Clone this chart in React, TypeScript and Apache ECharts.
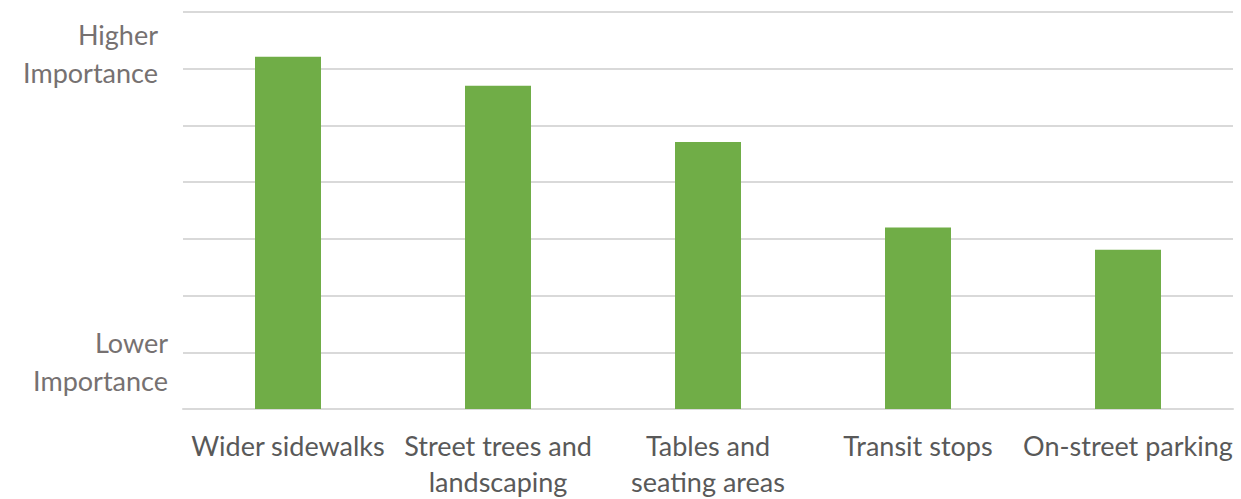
import React, { useEffect, useRef } from "react";
import * as echarts from "echarts";

const categories = [
  "Wider sidewalks",
  "Street trees and\nlandscaping",
  "Tables and\nseating areas",
  "Transit stops",
  "On-street parking",
];
const importance = [6.21, 5.7, 4.71, 3.2, 2.81];
const yTickLabels = ["Higher\nImportance", "Lower\nImportance"];

const FONT = "Lato, 'Open Sans', sans-serif";

export default function App() {
  const ref = useRef<HTMLDivElement>(null);
  useEffect(() => {
    if (!ref.current) return;
    document.body.style.margin = "0";
    const chart = echarts.init(ref.current, undefined, { renderer: "svg" });
    chart.setOption({
      animation: false,
      grid: { left: 183, right: 8, top: 12, bottom: 89, containLabel: false },
      xAxis: {
        type: "category",
        data: categories,
        axisLine: { show: true, lineStyle: { color: "#d9d9d9", width: 2 } },
        axisTick: { show: false },
        axisLabel: {
          interval: 0,
          margin: 18,
          color: "#595959",
          fontFamily: FONT,
          fontSize: 27,
          lineHeight: 36,
        },
      },
      yAxis: {
        type: "value",
        min: 0,
        max: 7,
        interval: 1,
        axisLine: { show: false },
        axisTick: { show: false },
        axisLabel: { show: false },
        splitLine: { lineStyle: { color: "#d9d9d9", width: 2 } },
      },
      graphic: [
        {
          type: "text",
          x: 158,
          y: 15,
          style: {
            text: yTickLabels[0],
            align: "right",
            verticalAlign: "top",
            fill: "#767171",
            font: `27px ${FONT}`,
            lineHeight: 38,
          },
        },
        {
          type: "text",
          x: 168,
          y: 323,
          style: {
            text: yTickLabels[1],
            align: "right",
            verticalAlign: "top",
            fill: "#767171",
            font: `27px ${FONT}`,
            lineHeight: 38,
          },
        },
      ],
      series: [
        {
          type: "bar",
          data: importance,
          barWidth: 66,
          itemStyle: { color: "#70ad47" },
        },
      ],
    });
    return () => chart.dispose();
  }, []);
  return <div ref={ref} style={{ width: 1241, height: 499 }} />;
}
